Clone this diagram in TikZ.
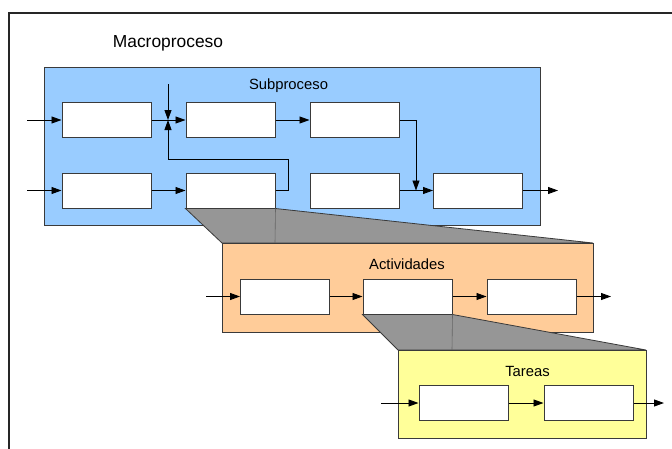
\documentclass[tikz,border=0pt]{standalone}
\usepackage{fontspec}
\setmainfont{Liberation Sans}
\usetikzlibrary{arrows.meta}
\definecolor{procblue}{HTML}{99CCFF}
\definecolor{actorange}{HTML}{FFCC99}
\definecolor{taskyellow}{HTML}{FFFF99}
\definecolor{zoomgray}{HTML}{969696}
\definecolor{edgegray}{HTML}{3A3A3A}
\tikzset{
  stepbox/.style={draw=edgegray, line width=1pt, fill=white, minimum width=89pt, minimum height=35pt, inner sep=0pt},
  panel/.style={draw=edgegray, line width=1pt},
  flow/.style={draw=black, line width=0.9pt, -{Triangle[length=10pt,width=7pt]}},
  wire/.style={draw=black, line width=0.9pt},
  zoomfill/.style={fill=zoomgray, draw=edgegray, line width=0.8pt},
  zoomedge/.style={draw=gray!80!black, line width=0.6pt},
  title/.style={font=\fontsize{14.8pt}{16pt}\selectfont, inner sep=0pt},
  bigtitle/.style={font=\fontsize{17.4pt}{19pt}\selectfont, inner sep=0pt}
}
\begin{document}
\begin{tikzpicture}[x=1pt,y=-1pt]
\useasboundingbox (0,0) rectangle (672,448);
\clip (0,0) rectangle (672,448);
\fill[white] (0,0) rectangle (672,448);

% outer frame of the macro process
\draw[draw=black!85, line width=1.3pt] (9,13) rectangle (720,500);
\node[bigtitle] (macro) at (168,43) {Macroproceso};

% sub process panel
\draw[panel, fill=procblue] (44,67) rectangle (540,225);
\node[title] (sub) at (288.5,86) {Subproceso};

\node[stepbox] (b1) at (106.5,120) {};
\node[stepbox] (b2) at (230.5,120) {};
\node[stepbox] (b3) at (354.5,120) {};
\node[stepbox] (b4) at (106.5,190.5) {};
\node[stepbox] (b5) at (230.5,190.5) {};
\node[stepbox] (b6) at (354.5,190.5) {};
\node[stepbox] (b7) at (478,190.5) {};

\coordinate (in1) at (27,120);
\coordinate (in4) at (27,190.5);
\coordinate (join) at (168,120);
\coordinate (jtop) at (168,84);
\coordinate (merge) at (416,190.5);
\coordinate (out7) at (558,190.5);

\draw[flow] (in1) -- (b1.west);
\draw[flow] (in4) -- (b4.west);
\draw[flow] (b1.east) -- (b2.west);
\draw[flow] (jtop) -- (join);
\draw[flow] (b5.east) -- ++(13,0) |- (168,159) -- (join);
\draw[flow] (b4.east) -- (b5.west);
\draw[flow] (b2.east) -- (b3.west);
\draw[flow] (b3.east) -| (merge);
\draw[flow] (b6.east) -- (b7.west);
\draw[flow] (b7.east) -- (out7);

% zoom from the sub process step to the activities
\draw[zoomfill] (b5.south west) -- (b5.south east) -- (593,243) -- (222,243) -- cycle;
\draw[zoomedge] (b5.south east) -- (275,243);

\draw[panel, fill=actorange] (222,243) rectangle (593,332);
\node[title] (act) at (407,264) {Actividades};

\node[stepbox] (a1) at (285,296.5) {};
\node[stepbox] (a2) at (407.5,296.5) {};
\node[stepbox] (a3) at (531.5,296.5) {};
\coordinate (ina) at (206,296.5);
\coordinate (outa) at (611,296.5);
\draw[flow] (ina) -- (a1.west);
\draw[flow] (a1.east) -- (a2.west);
\draw[flow] (a2.east) -- (a3.west);
\draw[flow] (a3.east) -- (outa);

% zoom from the activity to the tasks
\draw[zoomfill] (a2.south west) -- (a2.south east) -- (646,350) -- (398,350) -- cycle;
\draw[zoomedge] (a2.south east) -- (452,350);

\draw[panel, fill=taskyellow] (398,350) rectangle (646,438);
\node[title] (tasks) at (527.5,371) {Tareas};

\node[stepbox] (t1) at (463.5,403) {};
\node[stepbox] (t2) at (588.5,403) {};
\coordinate (int) at (381,403);
\coordinate (outt) at (664,403);
\draw[flow] (int) -- (t1.west);
\draw[flow] (t1.east) -- (t2.west);
\draw[flow] (t2.east) -- (outt);
\end{tikzpicture}
\end{document}
